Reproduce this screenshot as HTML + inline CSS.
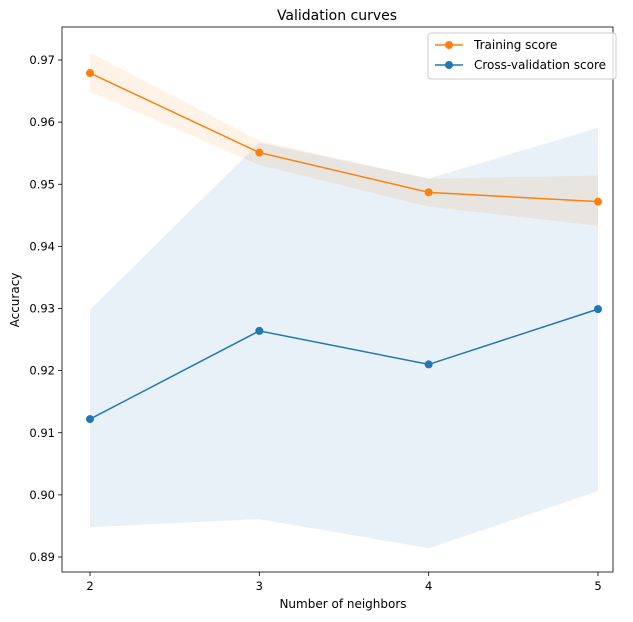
<!DOCTYPE html>
<html><head><meta charset="utf-8"><style>
body{margin:0;background:#fff;font-family:"Liberation Sans","DejaVu Sans",sans-serif;}
svg text{font-family:"DejaVu Sans","Liberation Sans",sans-serif;}
</style></head><body>
<svg id="chart" width="633" height="617"></svg>
<script>
const xCats=[2,3,4,5];
const trainMean=[0.9679,0.9551,0.9487,0.9472];
const trainUpper=[0.9712,0.9570,0.9509,0.9514];
const trainLower=[0.9649,0.9531,0.9464,0.9433];
const cvMean=[0.9122,0.9264,0.9210,0.9299];
const cvUpper=[0.9298,0.9567,0.9509,0.9591];
const cvLower=[0.8948,0.8961,0.8914,0.9006];
const yTicks=[0.89,0.90,0.91,0.92,0.93,0.94,0.95,0.96,0.97];
const xTicks=[2,3,4,5];

const NS="http://www.w3.org/2000/svg";
const svg=document.getElementById('chart');
const L=62,R=613,T=27,B=572;
const sx=v=>90+(v-2)*(598-90)/3;
const sy=v=>557-(v-0.89)*(557-60)/0.08;
function mk(tag,attrs,parent){const e=document.createElementNS(NS,tag);for(const k in attrs)e.setAttribute(k,attrs[k]);(parent||svg).appendChild(e);return e;}

function band(up,lo,color,name){
  let d='M'+xCats.map((x,i)=>sx(x)+','+sy(up[i])).join('L');
  for(let i=xCats.length-1;i>=0;i--)d+='L'+sx(xCats[i])+','+sy(lo[i]);
  const p=mk('path',{d:d+'Z',fill:color,'fill-opacity':0.1,stroke:'none'});
  
  
}
function line(vals,color,name){
  const p=mk('polyline',{points:xCats.map((x,i)=>sx(x)+','+sy(vals[i])).join(' '),fill:'none',stroke:color,'stroke-width':1.5});
  
  
  xCats.forEach((x,i)=>{
    const c=mk('circle',{cx:sx(x),cy:sy(vals[i]),r:4,fill:color});
    
    
  });
}
band(trainUpper,trainLower,'#ff7f0e','training-band');
band(cvUpper,cvLower,'#1f77b4','cv-band');
line(trainMean,'#ff7f0e','training');
line(cvMean,'#1f77b4','cv');

const frame=mk('rect',{x:L,y:T,width:R-L,height:B-T,fill:'none',stroke:'#000','stroke-width':0.8});



yTicks.forEach(v=>{
  const y=sy(v);
  mk('line',{x1:L-4,x2:L,y1:y,y2:y,stroke:'#000','stroke-width':0.8});
  const t=mk('text',{x:L-7,y:y+4,'text-anchor':'end','font-size':11.5,fill:'#000'});
  t.textContent=v.toFixed(2);
  
  
});
xTicks.forEach(v=>{
  const x=sx(v);
  mk('line',{x1:x,x2:x,y1:B,y2:B+4,stroke:'#000','stroke-width':0.8});
  const t=mk('text',{x:x,y:B+18,'text-anchor':'middle','font-size':11.5,fill:'#000'});
  t.textContent=v;
  
  
});
</script>
<svg width="633" height="617" style="position:absolute;left:0;top:0">
<text x="337" y="20" text-anchor="middle" font-size="14">Validation curves</text>
<text x="343" y="608" text-anchor="middle" font-size="12">Number of neighbors</text>
<text x="19" y="300" text-anchor="middle" font-size="12" transform="rotate(-90 19 300)">Accuracy</text>
<g>
<rect x="428" y="33" width="188" height="46" rx="3" fill="#fff" fill-opacity="0.8" stroke="#ccc"/>
<g>
<line x1="435" x2="463" y1="45" y2="45" stroke="#ff7f0e" stroke-width="1.5"/><circle cx="449" cy="45" r="4" fill="#ff7f0e"/>
<text x="474" y="49" font-size="12">Training score</text></g>
<g>
<line x1="435" x2="463" y1="65" y2="65" stroke="#1f77b4" stroke-width="1.5"/><circle cx="449" cy="65" r="4" fill="#1f77b4"/>
<text x="474" y="69" font-size="12">Cross-validation score</text></g>
</g>
</svg>
</body></html>
